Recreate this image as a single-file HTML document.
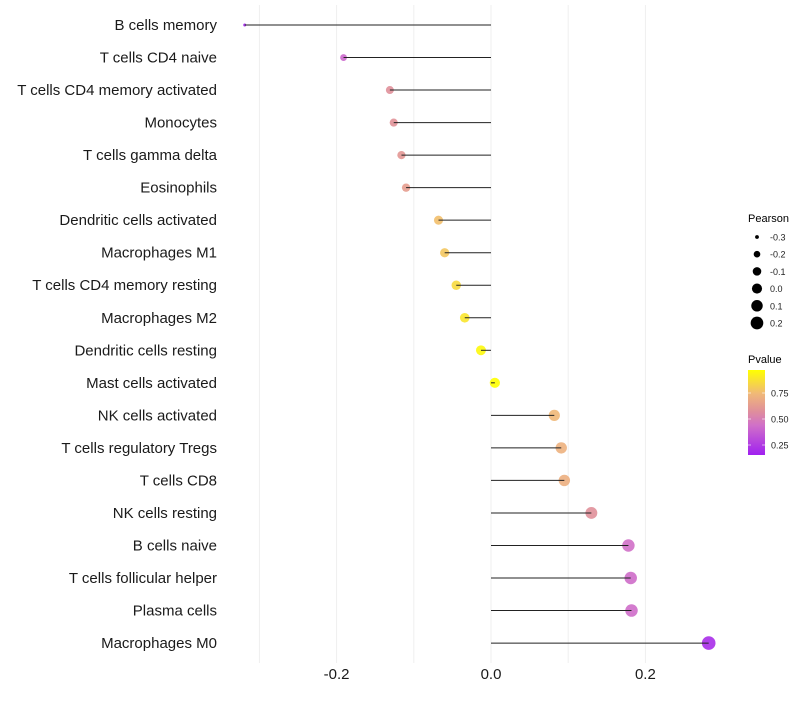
<!DOCTYPE html>
<html><head><meta charset="utf-8"><style>
body{margin:0;background:#fff;font-family:"Liberation Sans",sans-serif}
</style></head><body>
<svg id="c" width="800" height="700" xmlns="http://www.w3.org/2000/svg">
<defs><linearGradient id="pg" x1="0" y1="1" x2="0" y2="0">
<stop offset="0" stop-color="#a020f0"/><stop offset="0.35" stop-color="#d070c8"/><stop offset="0.52" stop-color="#e0909a"/><stop offset="0.72" stop-color="#f0b878"/><stop offset="1" stop-color="#ffff00"/></linearGradient></defs>
</svg>
<script>
const categories=["B cells memory","T cells CD4 naive","T cells CD4 memory activated","Monocytes","T cells gamma delta","Eosinophils","Dendritic cells activated","Macrophages M1","T cells CD4 memory resting","Macrophages M2","Dendritic cells resting","Mast cells activated","NK cells activated","T cells regulatory  Tregs ","T cells CD8","NK cells resting","B cells naive","T cells follicular helper","Plasma cells","Macrophages M0"];
const pearson=[-0.319,-0.191,-0.131,-0.126,-0.116,-0.110,-0.068,-0.060,-0.045,-0.034,-0.013,0.005,0.082,0.091,0.095,0.130,0.178,0.181,0.182,0.282];
const pvalues=[0.17,0.42,0.6,0.61,0.63,0.66,0.8,0.82,0.87,0.9,0.95,0.98,0.78,0.75,0.74,0.6,0.45,0.44,0.44,0.2];
const xTicks=[-0.2,0.0,0.2];
const sizeTicks=[-0.3,-0.2,-0.1,0.0,0.1,0.2];
const colorTicks=[0.75,0.50,0.25];
const NS="http://www.w3.org/2000/svg",svg=document.getElementById('c');
const X=v=>491+v*772, Y=i=>25+i*32.53;
const R=v=>Math.sqrt(Math.max(1,2.25+(v+0.319)/0.601*44));
const stops=[[0.15,[160,32,240]],[0.45,[208,112,200]],[0.6,[224,144,154]],[0.78,[240,184,120]],[0.97,[255,255,0]]];
function col(p){p=Math.max(0.15,Math.min(0.97,p));for(let k=0;k<stops.length-1;k++){const[a,ca]=stops[k],[b,cb]=stops[k+1];if(p<=b){const t=(p-a)/(b-a);return 'rgb('+ca.map((c,j)=>Math.round(c+(cb[j]-c)*t)).join(',')+')';}}return 'rgb(255,255,0)';}
function el(t,a,txt){const e=document.createElementNS(NS,t);for(const k in a)e.setAttribute(k,a[k]);if(txt!==undefined)e.textContent=txt;svg.appendChild(e);return e;}
[-0.3,-0.2,-0.1,0,0.1,0.2].forEach(v=>{const g=el('line',{x1:X(v),x2:X(v),y1:5,y2:663,stroke:'#efefef','stroke-width':1});

});
categories.forEach((c,i)=>{
const t=el('text',{x:217,y:Y(i)+5,'text-anchor':'end','font-size':15,fill:'#1a1a1a'},c);


const d=el('circle',{cx:X(pearson[i]),cy:Y(i),r:R(pearson[i]),fill:col(pvalues[i]),'fill-opacity':0.9});


const l=el('line',{x1:X(0),x2:X(pearson[i]),y1:Y(i),y2:Y(i),stroke:'#222','stroke-width':1});


});
xTicks.forEach(v=>{const t=el('text',{x:X(v),y:679,'text-anchor':'middle','font-size':15,fill:'#1a1a1a'},v.toFixed(1));

});
let t=el('text',{x:748,y:222,'font-size':11,fill:'#000'},'Pearson');


sizeTicks.forEach((v,k)=>{const y=237+k*17.2;
const c=el('circle',{cx:757,cy:y,r:R(v),fill:'#000'});


const s=el('text',{x:770,y:y+3.5,'font-size':9,fill:'#222'},v.toFixed(1));

});
t=el('text',{x:748,y:363,'font-size':11,fill:'#000'},'Pvalue');


const bar=el('rect',{x:748,y:370,width:17,height:85,fill:'url(#pg)'});


colorTicks.forEach(v=>{const y=419-(v-0.5)*104;
const s=el('text',{x:771,y:y+3.5,'font-size':9,fill:'#222'},v.toFixed(2));


el('line',{x1:748,x2:751,y1:y,y2:y,stroke:'#fff','stroke-width':0.6});el('line',{x1:762,x2:765,y1:y,y2:y,stroke:'#fff','stroke-width':0.6});});
</script>
</body></html>
